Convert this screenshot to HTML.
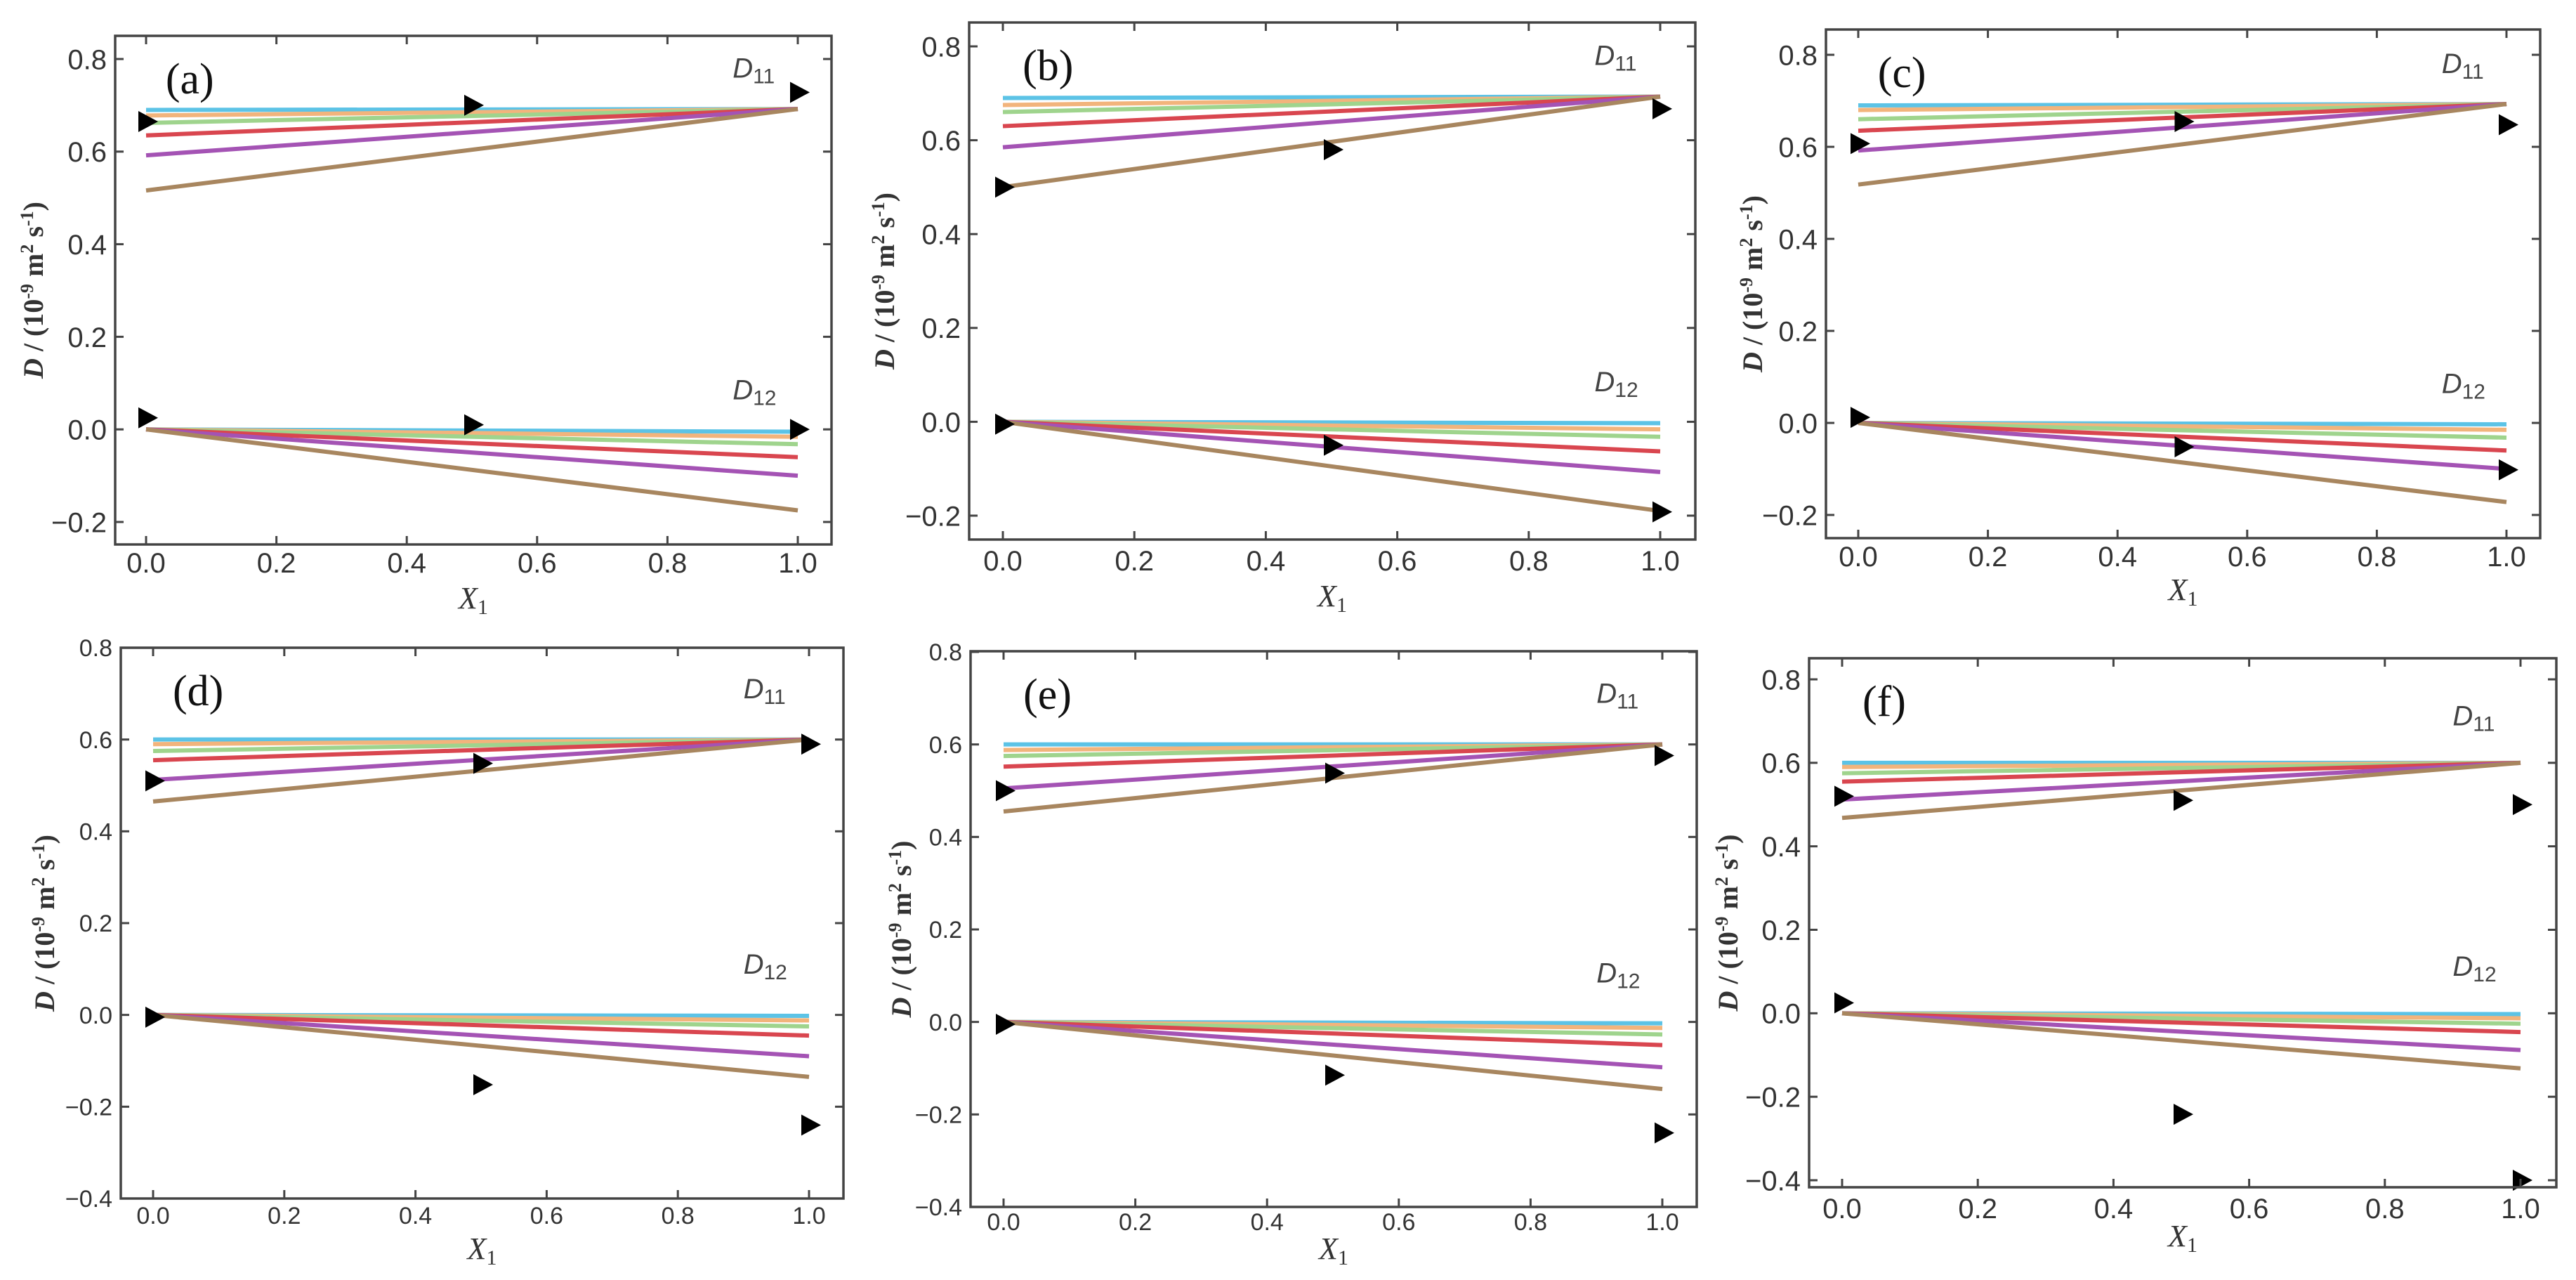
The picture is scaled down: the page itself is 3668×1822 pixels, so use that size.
<!DOCTYPE html>
<html><head><meta charset="utf-8"><style>
html,body{margin:0;padding:0;background:#fff;}
svg{display:block;}
</style></head><body>
<svg id="fig" width="3668" height="1822" viewBox="0 0 3668 1822" xmlns="http://www.w3.org/2000/svg"></svg>
<script>
// ---- data ----
const panelIds = ['a','b','c','d','e','f'];
const seriesColors = ['#5cc3e6','#f2b47c','#9fd48d','#d9464f','#a453b4','#a8865f'];
const d11Start_a = [0.69,0.678,0.662,0.635,0.592,0.516];
const d11End_a = [0.692,0.692,0.692,0.692,0.692,0.692];
const d12End_a = [-0.005,-0.016,-0.032,-0.06,-0.10,-0.175];
const mk11_a = [0.665,0.70,0.728];
const mk12_a = [0.025,0.01,0.0];
const d11Start_b = [0.69,0.675,0.66,0.63,0.585,0.50];
const d11End_b = [0.693,0.693,0.693,0.693,0.693,0.693];
const d12End_b = [-0.003,-0.016,-0.032,-0.063,-0.107,-0.19];
const mk11_b = [0.50,0.58,0.667];
const mk12_b = [-0.005,-0.05,-0.192];
const d11Start_c = [0.69,0.68,0.66,0.635,0.592,0.518];
const d11End_c = [0.693,0.693,0.693,0.693,0.693,0.693];
const d12End_c = [-0.003,-0.015,-0.032,-0.06,-0.10,-0.172];
const mk11_c = [0.607,0.655,0.648];
const mk12_c = [0.012,-0.052,-0.102];
const d11Start_d = [0.60,0.59,0.575,0.555,0.512,0.465];
const d11End_d = [0.60,0.60,0.60,0.60,0.60,0.60];
const d12End_d = [-0.002,-0.012,-0.025,-0.045,-0.09,-0.135];
const mk11_d = [0.51,0.548,0.59];
const mk12_d = [-0.005,-0.152,-0.24];
const d11Start_e = [0.60,0.588,0.575,0.552,0.505,0.455];
const d11End_e = [0.60,0.60,0.60,0.60,0.60,0.60];
const d12End_e = [-0.003,-0.013,-0.027,-0.05,-0.098,-0.145];
const mk11_e = [0.50,0.538,0.576];
const mk12_e = [-0.005,-0.115,-0.24];
const d11Start_f = [0.60,0.59,0.575,0.555,0.512,0.468];
const d11End_f = [0.60,0.60,0.60,0.60,0.60,0.60];
const d12End_f = [-0.002,-0.012,-0.025,-0.045,-0.088,-0.132];
const mk11_f = [0.52,0.51,0.50];
const mk12_f = [0.025,-0.242,-0.40];
const markerX = [0,0.5,1];
const xTicks = [0,0.2,0.4,0.6,0.8,1.0];
const yTicksTop = [-0.2,0,0.2,0.4,0.6,0.8];
const yTicksBottom = [-0.4,-0.2,0,0.2,0.4,0.6,0.8];
const labelY11 = {a:0.76,b:0.76,c:0.76,d:0.69,e:0.69,f:0.69};
const labelY12 = {a:0.065,b:0.065,c:0.065,d:0.09,e:0.085,f:0.09};
const DATA = {
 a:[d11Start_a,d11End_a,d12End_a,mk11_a,mk12_a],
 b:[d11Start_b,d11End_b,d12End_b,mk11_b,mk12_b],
 c:[d11Start_c,d11End_c,d12End_c,mk11_c,mk12_c],
 d:[d11Start_d,d11End_d,d12End_d,mk11_d,mk12_d],
 e:[d11Start_e,d11End_e,d12End_e,mk11_e,mk12_e],
 f:[d11Start_f,d11End_f,d12End_f,mk11_f,mk12_f]};
// ---- layout ----
const LAYOUT = {
 a:{box:[164,51,1184,775],yA:[0.8,84],yB:[-0.2,743],xA:208,xB:1136,ticks:yTicksTop,fs:40,tg:40,xg:91,yx:47},
 b:{box:[1380,32,2414,768],yA:[0.8,66],yB:[-0.2,734],xA:1428,xB:2364,ticks:yTicksTop,fs:40,tg:44,xg:95,yx:1259},
 c:{box:[2600,42,3617,766],yA:[0.8,78],yB:[-0.2,733],xA:2646,xB:3569,ticks:yTicksTop,fs:40,tg:40,xg:88,yx:2495},
 d:{box:[172,922,1201,1706],yA:[0.8,922],yB:[-0.4,1706],xA:218,xB:1152,ticks:yTicksBottom,fs:34,tg:36,xg:86,yx:63},
 e:{box:[1382,927,2416,1718],yA:[0.8,928],yB:[-0.4,1718],xA:1429,xB:2367,ticks:yTicksBottom,fs:34,tg:33,xg:74,yx:1283},
 f:{box:[2576,937,3640,1690],yA:[0.8,967],yB:[-0.4,1680],xA:2623,xB:3589,ticks:yTicksBottom,fs:40,tg:44,xg:84,yx:2460}
};
const NS='http://www.w3.org/2000/svg';
const svg=document.getElementById('fig');
function mk(tag,attrs,parent){const e=document.createElementNS(NS,tag);for(const k in attrs)e.setAttribute(k,attrs[k]);(parent||svg).appendChild(e);return e;}
panelIds.forEach(id=>{
 const L=LAYOUT[id], D=DATA[id];
 const sx=v=>L.xA+(L.xB-L.xA)*v;
 const sy=v=>L.yA[1]+(L.yB[1]-L.yA[1])*(v-L.yA[0])/(L.yB[0]-L.yA[0]);
 const g=mk('g',{});
 
 
 const [x0,y0,x1,y1]=L.box;
 D[0].forEach((s,i)=>{
  const l=mk('line',{x1:sx(0),y1:sy(s),x2:sx(1),y2:sy(D[1][i]),stroke:seriesColors[i],'stroke-width':6},g);
  
  
 });
 D[2].forEach((e,i)=>{
  const l=mk('line',{x1:sx(0),y1:sy(0),x2:sx(1),y2:sy(e),stroke:seriesColors[i],'stroke-width':6},g);
  
  
 });
 [D[3],D[4]].forEach((arr,k)=>{
  arr.forEach((v,j)=>{
   const cx=sx(markerX[j]), cy=sy(v);
   const p=mk('polygon',{points:`${cx-11},${cy-15} ${cx+17},${cy} ${cx-11},${cy+15}`,fill:'#000'},g);
   
   
  });
 });
 const fr=mk('rect',{x:x0,y:y0,width:x1-x0,height:y1-y0,fill:'none',stroke:'#444','stroke-width':3.5},g);
 
 
 xTicks.forEach(t=>{
  const X=sx(t);
  mk('line',{x1:X,y1:y1,x2:X,y2:y1-12,stroke:'#444','stroke-width':3},g);
  mk('line',{x1:X,y1:y0,x2:X,y2:y0+12,stroke:'#444','stroke-width':3},g);
  const tx=mk('text',{x:X,y:y1+L.tg,'text-anchor':'middle','font-family':'Liberation Sans, sans-serif','font-size':L.fs,fill:'#333'},g);
  tx.textContent=t.toFixed(1);
  
  
 });
 L.ticks.forEach(t=>{
  const Y=sy(t);
  mk('line',{x1:x0,y1:Y,x2:x0+12,y2:Y,stroke:'#444','stroke-width':3},g);
  mk('line',{x1:x1,y1:Y,x2:x1-12,y2:Y,stroke:'#444','stroke-width':3},g);
  const tx=mk('text',{x:x0-12,y:Y+L.fs*0.36,'text-anchor':'end','font-family':'Liberation Sans, sans-serif','font-size':L.fs,fill:'#333'},g);
  tx.textContent=(t<0?'\u2212':'')+Math.abs(t).toFixed(1);
  
  
 });
 const pl=mk('text',{x:sx(0.03),y:y0+82,'font-family':'Liberation Serif, serif','font-size':62,fill:'#111'},g);
 pl.textContent='('+id+')';
 
 
 [['D','11',labelY11[id],'d11-label'],['D','12',labelY12[id],'d12-label']].forEach(a=>{
  const t=mk('text',{x:sx(0.9),y:sy(a[2]),'font-family':'Liberation Sans, sans-serif','font-size':40,'font-style':'italic',fill:'#444'},g);
  t.innerHTML='D<tspan font-style="normal" font-size="30" dy="8">'+a[1]+'</tspan>';
  
  
 });
 const xt=mk('text',{x:(x0+x1)/2,y:y1+L.xg,'text-anchor':'middle','font-family':'Liberation Serif, serif','font-size':44,'font-style':'italic',fill:'#333'},g);
 xt.innerHTML='X<tspan font-style="normal" font-size="30" dy="8">1</tspan>';
 
 
 const cy=(y0+y1)/2, cx=L.yx+14;
 const yt=mk('text',{x:cx,y:cy,'text-anchor':'middle',transform:`rotate(-90 ${cx} ${cy})`,'font-family':'Liberation Serif, serif','font-size':40,'font-weight':'bold',fill:'#333'},g);
 yt.innerHTML='<tspan font-style="italic">D</tspan> / (10<tspan font-size="26" dy="-14">-9</tspan><tspan dy="14"> m</tspan><tspan font-size="26" dy="-14">2</tspan><tspan dy="14"> s</tspan><tspan font-size="26" dy="-14">-1</tspan><tspan dy="14">)</tspan>';
 
 
});
</script>
</body></html>
